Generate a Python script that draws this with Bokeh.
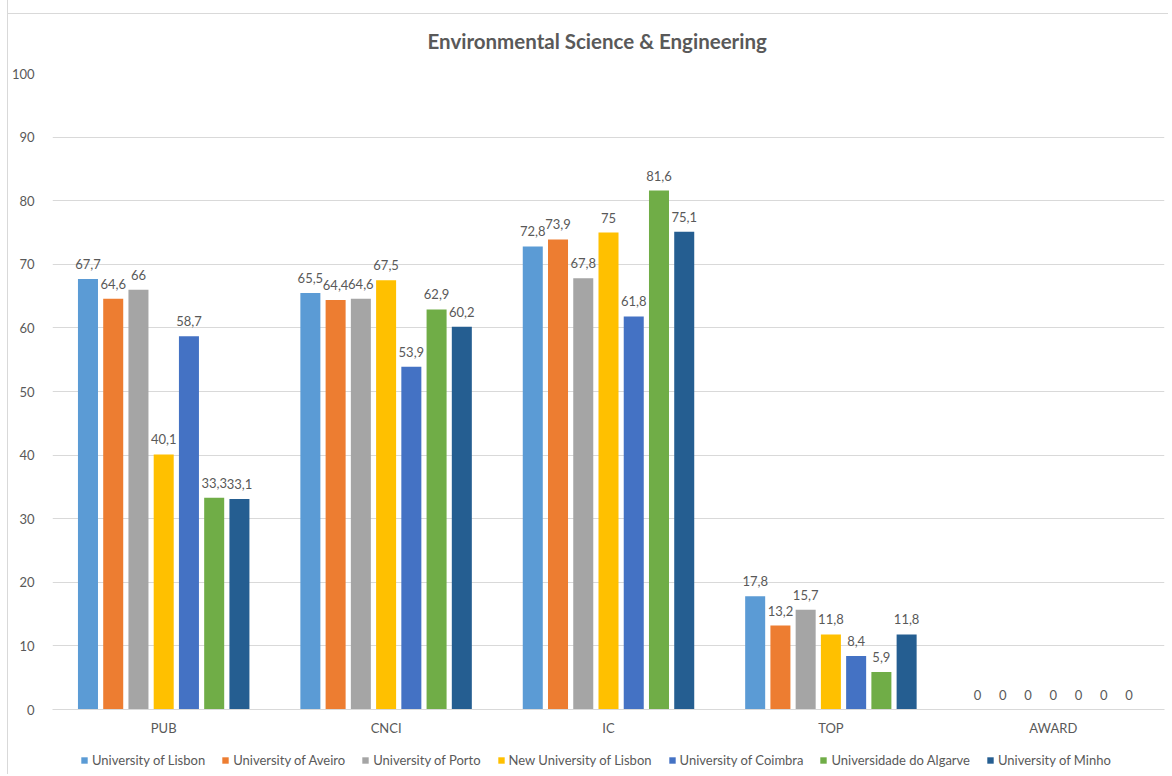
from bokeh.plotting import figure
from bokeh.layouts import column
from bokeh.models import ColumnDataSource, FixedTicker, Legend, LegendItem
from bokeh.core.properties import value
from bokeh.embed import file_html
from bokeh.resources import INLINE

categories = ["PUB", "CNCI", "IC", "TOP", "AWARD"]
series = ["University of Lisbon", "University of Aveiro", "University of Porto",
          "New University of Lisbon", "University of Coimbra",
          "Universidade do Algarve", "University of Minho"]
colors = ["#5B9BD5", "#ED7D31", "#A5A5A5", "#FFC000", "#4472C4", "#70AD47", "#255E91"]

lisbon = [67.7, 65.5, 72.8, 17.8, 0]
aveiro = [64.6, 64.4, 73.9, 13.2, 0]
porto = [66, 64.6, 67.8, 15.7, 0]
new_lisbon = [40.1, 67.5, 75, 11.8, 0]
coimbra = [58.7, 53.9, 61.8, 8.4, 0]
algarve = [33.3, 62.9, 81.6, 5.9, 0]
minho = [33.1, 60.2, 75.1, 11.8, 0]
all_values = [lisbon, aveiro, porto, new_lisbon, coimbra, algarve, minho]

FONT = "Lato"
TXT = "#595959"
GRID = "#D9D9D9"

p = figure(frame_width=1112, frame_height=636, output_backend="svg", toolbar_location=None,
           x_range=(0, 5.0), y_range=(0, 100),
           min_border_left=44, min_border_right=4, min_border_top=73, min_border_bottom=27,
           title="Environmental Science & Engineering")
p.outline_line_color = None
p.background_fill_color = "white"
p.border_fill_alpha = 0
p.title.align = "left"
p.title.offset = 375
p.title.text_font = FONT
p.title.text_font_size = "20.5px"
p.title.text_font_style = "bold"
p.title.text_color = TXT
p.title.standoff = 42

step = 0.1135
width = 0.09
for j, (name, vals, col) in enumerate(zip(series, all_values, colors)):
    xs = [i + 0.5 + (j - 3) * step for i in range(len(categories))]
    labels = [f"{v:g}".replace(".", ",") for v in vals]
    src = ColumnDataSource(dict(x=xs, top=vals, lab=labels))
    p.vbar(x="x", top="top", width=width, bottom=0, source=src,
           fill_color=col, line_color=None)
    p.text(x="x", y="top", text="lab", source=src, text_align="center",
           text_baseline="bottom", y_offset=-10, text_font=value(FONT),
           text_font_size="13px", text_color=TXT)

p.yaxis.ticker = FixedTicker(ticks=list(range(0, 101, 10)))
p.xaxis.ticker = FixedTicker(ticks=[i + 0.5 for i in range(len(categories))])
p.xaxis.major_label_overrides = {i + 0.5: c for i, c in enumerate(categories)}
for ax in (p.xaxis[0], p.yaxis[0]):
    ax.major_tick_line_color = None
    ax.minor_tick_line_color = None
    ax.major_label_text_font = FONT
    ax.major_label_text_font_size = "13px"
    ax.major_label_text_color = TXT
p.yaxis.axis_line_color = None
p.xaxis.axis_line_color = GRID
p.xaxis.major_label_standoff = 4
p.yaxis.major_label_standoff = 12
p.xgrid.grid_line_color = None
p.ygrid.grid_line_color = GRID
p.ygrid.ticker = FixedTicker(ticks=list(range(10, 101, 10)))

# legend strip below the chart
lg = figure(width=1160, height=36, output_backend="svg", toolbar_location=None,
            x_range=(0, 1), y_range=(0, 1), min_border=0)
lg.axis.visible = False
lg.grid.visible = False
lg.outline_line_color = None
lg.border_fill_alpha = 0
lg.background_fill_alpha = 0
items = []
for name, col in zip(series, colors):
    r = lg.vbar(x=[-5], top=[-5], width=0.1, fill_color=col, line_color=None)
    items.append(LegendItem(label=name, renderers=[r]))
legend = Legend(items=items, orientation="horizontal", location=(28, 6),
                label_text_font=FONT, label_text_font_size="13px", label_text_color=TXT,
                glyph_width=8, glyph_height=8, spacing=16, label_standoff=4,
                border_line_color=None, background_fill_alpha=0, padding=0, margin=0)
lg.add_layout(legend)

layout = column(p, lg, spacing=0,
                styles={"margin-left": "7px",
                        "border-left": "1px solid #D9D9D9",
                        "background": "linear-gradient(#D9D9D9, #D9D9D9) 0 13px / 100% 1px no-repeat, #FFFFFF"})
open("out.html", "w").write(file_html(layout, INLINE))
